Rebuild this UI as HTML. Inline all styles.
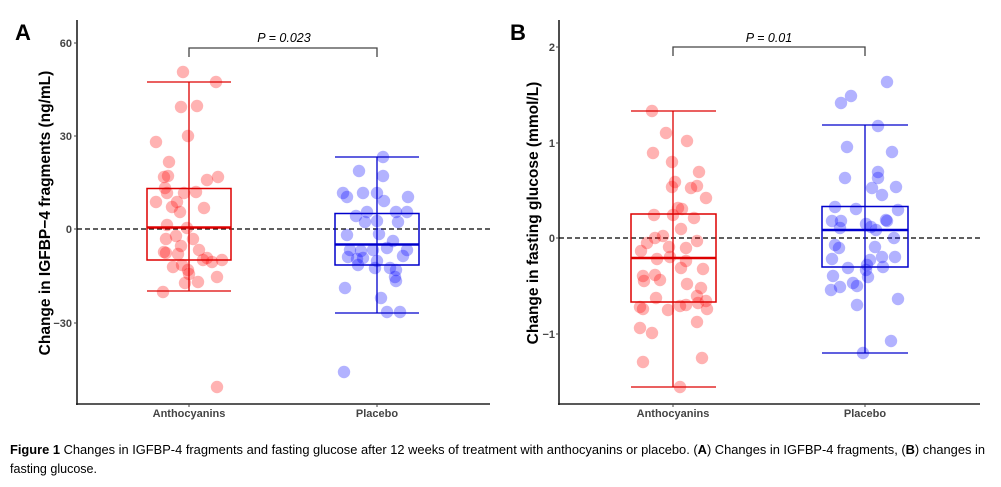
<!DOCTYPE html>
<html><head><meta charset="utf-8"><style>body{margin:0;background:#fff}svg{display:block}</style></head>
<body>
<svg id="s" width="1001" height="487" viewBox="0 0 1001 487" xmlns="http://www.w3.org/2000/svg" font-family="Liberation Sans, Arial, sans-serif">
<rect width="1001" height="487" fill="#fff"/>
<!-- Panel A -->
<text x="15" y="40" font-size="22" font-weight="bold">A</text>
<line x1="77" y1="20" x2="77" y2="405" stroke="#222" stroke-width="1.6"/>
<line x1="76" y1="404" x2="490" y2="404" stroke="#222" stroke-width="1.6"/>
<g font-size="11" fill="#444" font-weight="bold" text-anchor="end">
<text x="72" y="47">60</text><text x="72" y="140">30</text><text x="72" y="233">0</text><text x="72" y="327">−30</text></g>
<g stroke="#444"><line x1="74" y1="43" x2="77" y2="43"/><line x1="74" y1="136" x2="77" y2="136"/><line x1="74" y1="229" x2="77" y2="229"/><line x1="74" y1="323" x2="77" y2="323"/>
<line x1="189" y1="404" x2="189" y2="407"/><line x1="377" y1="404" x2="377" y2="407"/></g>
<g font-size="11" fill="#444" font-weight="bold" text-anchor="middle"><text x="189" y="417">Anthocyanins</text><text x="377" y="417">Placebo</text></g>
<text transform="translate(50,213) rotate(-90)" font-size="15.5" font-weight="bold" text-anchor="middle">Change in IGFBP−4 fragments (ng/mL)</text>
<line x1="77" y1="229" x2="490" y2="229" stroke="#000" stroke-width="1.3" stroke-dasharray="5,3"/>
<path d="M189 57V48H377V57" fill="none" stroke="#444" stroke-width="1.3"/>
<text x="284" y="42" font-size="12.5" font-style="italic" text-anchor="middle">P = 0.023</text>
<g id="pa"></g>
<!-- Panel B -->
<text x="510" y="40" font-size="22" font-weight="bold">B</text>
<line x1="559" y1="20" x2="559" y2="405" stroke="#222" stroke-width="1.6"/>
<line x1="558" y1="404" x2="980" y2="404" stroke="#222" stroke-width="1.6"/>
<g font-size="11" fill="#444" font-weight="bold" text-anchor="end">
<text x="555" y="51">2</text><text x="555" y="147">1</text><text x="555" y="242">0</text><text x="555" y="338">−1</text></g>
<g stroke="#444"><line x1="556" y1="47" x2="559" y2="47"/><line x1="556" y1="143" x2="559" y2="143"/><line x1="556" y1="238" x2="559" y2="238"/><line x1="556" y1="334" x2="559" y2="334"/>
<line x1="673" y1="404" x2="673" y2="407"/><line x1="865" y1="404" x2="865" y2="407"/></g>
<g font-size="11" fill="#444" font-weight="bold" text-anchor="middle"><text x="673" y="417">Anthocyanins</text><text x="865" y="417">Placebo</text></g>
<text transform="translate(538,213) rotate(-90)" font-size="15.5" font-weight="bold" text-anchor="middle">Change in fasting glucose (mmol/L)</text>
<line x1="559" y1="238" x2="980" y2="238" stroke="#000" stroke-width="1.3" stroke-dasharray="5,3"/>
<path d="M673 56V47H865V56" fill="none" stroke="#444" stroke-width="1.3"/>
<text x="769" y="42" font-size="12.5" font-style="italic" text-anchor="middle">P = 0.01</text>
<g id="pb"></g>
<!-- caption -->
<text x="10" y="454" font-size="12.5" textLength="975" lengthAdjust="spacingAndGlyphs"><tspan font-weight="bold">Figure 1</tspan> Changes in IGFBP-4 fragments and fasting glucose after 12 weeks of treatment with anthocyanins or placebo. (<tspan font-weight="bold">A</tspan>) Changes in IGFBP-4 fragments, (<tspan font-weight="bold">B</tspan>) changes in</text>
<text x="10" y="473" font-size="12.5" textLength="87" lengthAdjust="spacingAndGlyphs">fasting glucose.</text>
</svg>
<script>
var NS="http://www.w3.org/2000/svg";
function el(g,t,a){var e=document.createElementNS(NS,t);for(var k in a)e.setAttribute(k,a[k]);g.appendChild(e);}
function pts(g,arr,c){for(var i=0;i<arr.length;i+=2)el(g,"circle",{cx:arr[i],cy:arr[i+1],r:6.2,fill:c,"fill-opacity":0.3});}
function box(g,cx,x1,x2,q3,q1,med,wt,wb,c){
el(g,"line",{x1:cx,y1:wt,x2:cx,y2:wb,stroke:c,"stroke-width":1.3});
el(g,"line",{x1:x1,y1:wt,x2:x2,y2:wt,stroke:c,"stroke-width":1.3});
el(g,"line",{x1:x1,y1:wb,x2:x2,y2:wb,stroke:c,"stroke-width":1.3});
el(g,"rect",{x:x1,y:q3,width:x2-x1,height:q1-q3,fill:"none",stroke:c,"stroke-width":1.5});
el(g,"line",{x1:x1,y1:med,x2:x2,y2:med,stroke:c,"stroke-width":2.4});}
var pa=document.getElementById("pa"),pb=document.getElementById("pb");
var aR=[183,72,216,82,181,107,197,106,188,136,156,142,169,162,164,177,168,176,207,180,218,177,165,188,167,193,184,193,196,192,156,202,177,202,172,207,180,212,204,208,167,225,187,228,166,239,176,236,193,239,181,246,199,250,164,252,166,253,178,254,207,258,212,262,222,260,203,260,173,267,182,265,188,270,189,274,217,277,185,283,198,282,163,292,217,387];
var aB=[383,157,359,171,383,176,343,193,347,197,363,193,377,193,408,197,384,201,367,212,396,212,407,212,356,216,365,222,377,221,398,222,347,235,379,234,393,241,350,250,361,251,373,250,387,248,407,250,348,257,357,259,363,258,403,256,358,265,377,261,375,268,390,268,396,270,395,277,396,281,345,288,381,298,387,312,400,312,344,372];
pts(pa,aR,"#ff0000");pts(pa,aB,"#0000ff");
box(pa,189,147,231,188.5,260,227.5,82,291,"#dd0000");
box(pa,377,335,419,213.5,265,244.5,157,313,"#0000cc");
var bR=[652,111,666,133,687,141,653,153,672,162,699,172,675,182,672,187,691,188,697,186,706,198,678,208,682,209,654,215,673,215,694,218,681,229,655,238,663,236,647,243,697,241,669,247,686,248,641,251,670,257,657,259,686,261,681,268,703,269,643,276,655,275,660,280,644,281,687,284,701,288,697,296,656,298,706,301,698,303,680,306,686,305,640,307,643,309,668,310,707,309,697,322,640,328,652,333,643,362,702,358,680,387];
var bB=[887,82,851,96,841,103,878,126,847,147,892,152,878,172,845,178,878,178,896,187,872,188,882,195,835,207,856,209,898,210,832,221,841,221,886,220,887,221,866,224,840,228,871,227,876,230,894,238,835,245,839,248,875,247,832,259,870,260,882,257,895,257,848,268,867,265,883,267,866,270,833,276,868,277,853,283,857,286,840,287,831,290,898,299,857,305,891,341,863,353];
pts(pb,bR,"#ff0000");pts(pb,bB,"#0000ff");
box(pb,673,631,716,214,302,258,111,387,"#dd0000");
box(pb,865,822,908,206.5,267,230,125,353,"#0000cc");
</script>
</body></html>
